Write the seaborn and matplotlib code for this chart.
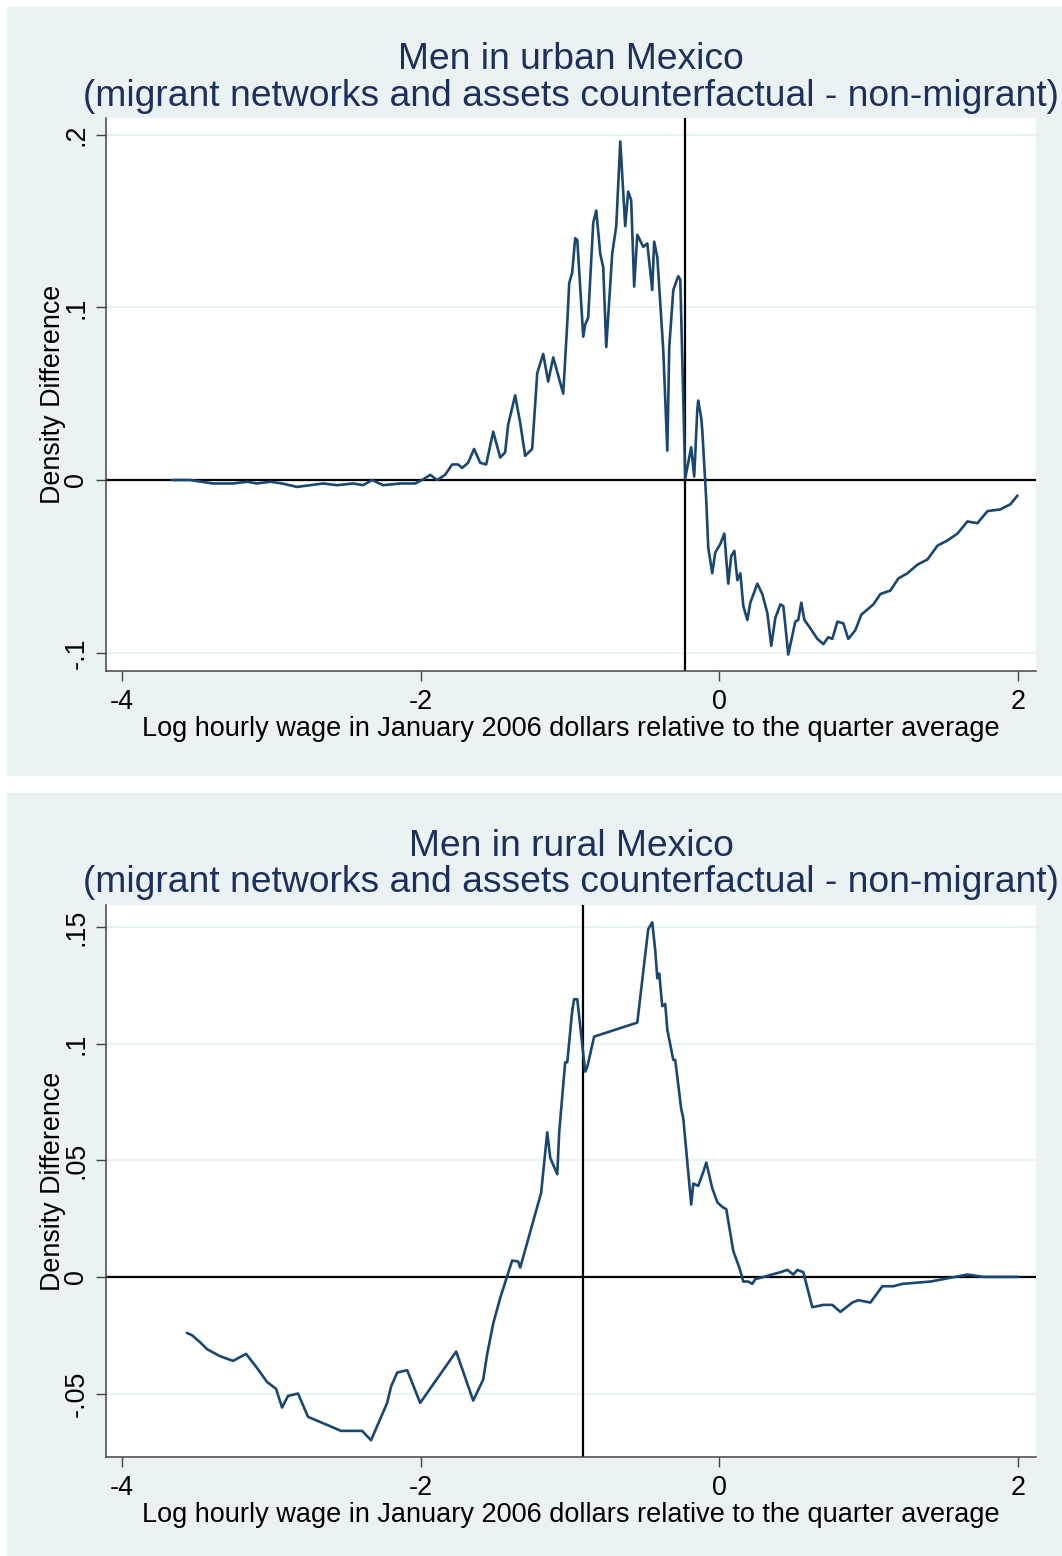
import matplotlib
matplotlib.use("Agg")
import matplotlib.pyplot as plt
import seaborn as sns
import pandas as pd
from matplotlib.patches import Rectangle

# urban panel: density difference curve
urban_x = [-3.665, -3.544, -3.390, -3.256, -3.163, -3.096, -3.008, -2.928, -2.828, -2.740,
           -2.653, -2.560, -2.452, -2.385, -2.325, -2.251, -2.137, -2.037, -1.990, -1.936,
           -1.889, -1.836, -1.789, -1.749, -1.722, -1.682, -1.642, -1.601, -1.561, -1.514,
           -1.467, -1.434, -1.414, -1.367, -1.333, -1.300, -1.253, -1.219, -1.179, -1.146,
           -1.112, -1.045, -1.018, -1.005, -0.985, -0.965, -0.951, -0.911, -0.898, -0.878,
           -0.844, -0.824, -0.797, -0.777, -0.757, -0.717, -0.690, -0.663, -0.630, -0.610,
           -0.590, -0.570, -0.549, -0.509, -0.482, -0.449, -0.436, -0.415, -0.375, -0.348,
           -0.335, -0.308, -0.275, -0.261, -0.228, -0.188, -0.168, -0.147, -0.141, -0.121,
           -0.114, -0.087, -0.074, -0.047, -0.027, 0.007, 0.034, 0.047, 0.060, 0.080,
           0.101, 0.121, 0.141, 0.161, 0.188, 0.208, 0.255, 0.288, 0.322, 0.348,
           0.375, 0.409, 0.429, 0.462, 0.509, 0.529, 0.549, 0.570, 0.603, 0.657,
           0.697, 0.730, 0.757, 0.791, 0.831, 0.864, 0.911, 0.951, 0.992, 1.032,
           1.079, 1.146, 1.199, 1.260, 1.327, 1.394, 1.461, 1.528, 1.595, 1.662,
           1.729, 1.796, 1.883, 1.950, 1.997]
urban_y = [0.000, 0.000, -0.002, -0.002, -0.001, -0.002, -0.001, -0.002, -0.004, -0.003,
           -0.002, -0.003, -0.002, -0.003, 0.000, -0.003, -0.002, -0.002, 0.000, 0.003,
           0.000, 0.003, 0.009, 0.009, 0.007, 0.010, 0.018, 0.010, 0.009, 0.028,
           0.013, 0.016, 0.032, 0.049, 0.033, 0.014, 0.018, 0.062, 0.073, 0.057,
           0.071, 0.050, 0.091, 0.114, 0.120, 0.140, 0.139, 0.083, 0.090, 0.094,
           0.149, 0.156, 0.131, 0.123, 0.077, 0.131, 0.147, 0.196, 0.147, 0.167,
           0.162, 0.112, 0.142, 0.135, 0.137, 0.110, 0.138, 0.129, 0.075, 0.017,
           0.077, 0.110, 0.118, 0.116, 0.001, 0.019, 0.002, 0.041, 0.046, 0.036,
           0.029, -0.012, -0.039, -0.054, -0.042, -0.037, -0.031, -0.046, -0.060, -0.044,
           -0.041, -0.058, -0.054, -0.073, -0.081, -0.071, -0.060, -0.066, -0.077, -0.096,
           -0.080, -0.072, -0.073, -0.101, -0.082, -0.081, -0.071, -0.081, -0.085, -0.092,
           -0.095, -0.091, -0.092, -0.082, -0.083, -0.092, -0.087, -0.078, -0.075, -0.072,
           -0.066, -0.064, -0.057, -0.054, -0.049, -0.046, -0.038, -0.035, -0.031, -0.024,
           -0.025, -0.018, -0.017, -0.014, -0.009]

# rural panel
rural_x = [-3.565, -3.531, -3.477, -3.430, -3.343, -3.256, -3.169, -3.096, -3.029, -2.968,
           -2.928, -2.888, -2.821, -2.754, -2.606, -2.533, -2.392, -2.332, -2.224, -2.198,
           -2.157, -2.090, -2.003, -1.762, -1.648, -1.581, -1.554, -1.514, -1.467, -1.387,
           -1.347, -1.333, -1.193, -1.152, -1.132, -1.085, -1.072, -1.032, -1.018, -0.985,
           -0.972, -0.951, -0.898, -0.884, -0.838, -0.549, -0.476, -0.449, -0.429, -0.415,
           -0.402, -0.382, -0.362, -0.348, -0.308, -0.295, -0.255, -0.241, -0.188, -0.174,
           -0.141, -0.107, -0.087, -0.047, -0.013, 0.020, 0.047, 0.094, 0.134, 0.161,
           0.194, 0.221, 0.241, 0.409, 0.456, 0.496, 0.523, 0.563, 0.623, 0.697,
           0.757, 0.811, 0.891, 0.931, 1.012, 1.092, 1.166, 1.226, 1.414, 1.662,
           1.769, 2.003]
rural_y = [-0.024, -0.025, -0.028, -0.031, -0.034, -0.036, -0.033, -0.039, -0.045, -0.048,
           -0.056, -0.051, -0.050, -0.060, -0.064, -0.066, -0.066, -0.070, -0.054, -0.047,
           -0.041, -0.040, -0.054, -0.032, -0.053, -0.044, -0.033, -0.020, -0.009, 0.007,
           0.0066, 0.004, 0.036, 0.062, 0.051, 0.044, 0.062, 0.092, 0.092, 0.114,
           0.119, 0.119, 0.088, 0.090, 0.103, 0.109, 0.149, 0.152, 0.140, 0.128,
           0.130, 0.116, 0.117, 0.106, 0.093, 0.093, 0.072, 0.068, 0.031, 0.040,
           0.039, 0.045, 0.049, 0.038, 0.032, 0.030, 0.029, 0.011, 0.004, -0.002,
           -0.002, -0.003, -0.001, 0.002, 0.003, 0.001, 0.003, 0.002, -0.013, -0.012,
           -0.012, -0.015, -0.011, -0.010, -0.011, -0.004, -0.004, -0.003, -0.002, 0.001,
           0.000, 0.000]

titles = ["Men in urban Mexico\n(migrant networks and assets counterfactual - non-migrant)",
          "Men in rural Mexico\n(migrant networks and assets counterfactual - non-migrant)"]
vlines = [-0.228, -0.911]
xticks = [-4, -2, 0, 2]
urban_yticks = [-0.1, 0, 0.1, 0.2]
urban_ylabels = ["-.1", "0", ".1", ".2"]
rural_yticks = [-0.05, 0, 0.05, 0.1, 0.15]
rural_ylabels = ["-.05", "0", ".05", ".1", ".15"]

BG = "#eaf2f3"
LINE = "#1a476f"
TITLE = "#1f2f5c"

sns.set_style("white")
plt.rcParams["font.family"] = ["Liberation Sans", "DejaVu Sans"]

W, H = 1062, 1556
fig = plt.figure(figsize=(W / 100, H / 100), dpi=100, facecolor="white")

# panel backgrounds (behind the axes)
fig.patches.append(Rectangle((7 / W, 1 - 775 / H), 1, (775 - 7) / H,
                             transform=fig.transFigure, color=BG, zorder=-5))
fig.patches.append(Rectangle((7 / W, 0), 1, 1 - 793 / H,
                             transform=fig.transFigure, color=BG, zorder=-5))

panels = [
    (urban_x, urban_y, urban_yticks, urban_ylabels, (-0.1104, 0.2096), 118, 670.7),
    (rural_x, rural_y, rural_yticks, rural_ylabels, (-0.0772, 0.1594), 905, 1457),
]

for i, (xs, ys, yt, yl, ylim, top, bot) in enumerate(panels):
    ax = fig.add_axes([106 / W, 1 - bot / H, (1036 - 106) / W, (bot - top) / H])
    ax.set_facecolor("white")
    df = pd.DataFrame({"x": xs, "y": ys})
    for t in yt:
        ax.axhline(t, color=BG, lw=1.6, zorder=0)
    ax.axhline(0, color="black", lw=1.6, zorder=2)
    ax.axvline(vlines[i], color="black", lw=1.6, zorder=2)
    sns.lineplot(data=df, x="x", y="y", ax=ax, sort=False, estimator=None,
                 color=LINE, lw=1.9, zorder=3)
    ax.set_xlim(-4.107, 2.121)
    ax.set_ylim(*ylim)
    ax.set_xticks(xticks)
    ax.set_xticklabels([str(t) for t in xticks])
    ax.set_yticks(yt)
    ax.set_yticklabels(yl, rotation=90, va="center")
    ax.tick_params(axis="both", length=7, width=1, color="#444444", labelcolor="black",
                   labelsize=19.4, direction="out", left=True, bottom=True)
    ax.tick_params(axis="x", pad=6)
    ax.tick_params(axis="y", pad=5)
    for s in ["top", "right"]:
        ax.spines[s].set_visible(False)
    for s in ["left", "bottom"]:
        ax.spines[s].set_color("#444444")
        ax.spines[s].set_linewidth(1.1)
    ax.set_xlabel("Log hourly wage in January 2006 dollars relative to the quarter average",
                  fontsize=19.5, labelpad=1, color="black")
    ax.set_ylabel("Density Difference", fontsize=19.4, va="center", color="black")
    ax.yaxis.set_label_coords(-0.057, 0.5)
    ax.set_title(titles[i], fontsize=26.8, color=TITLE, linespacing=1.06, pad=9)

fig.savefig("out.png", dpi=100, facecolor="white")
